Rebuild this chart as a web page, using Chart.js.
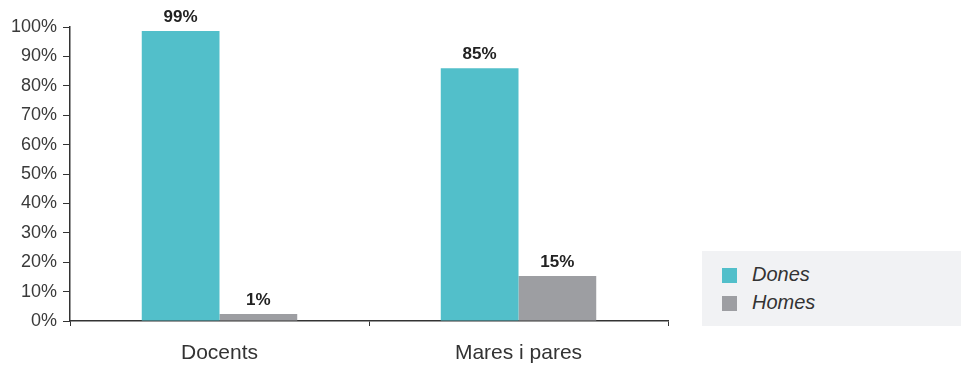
<!DOCTYPE html>
<html>
<head>
<meta charset="utf-8">
<script src="https://cdn.jsdelivr.net/npm/chart.js@4"></script>
<style>
  html,body{margin:0;padding:0;background:#fff;}
  #wrap{position:relative;width:961px;height:372px;}
  #legend{position:absolute;left:702px;top:251px;width:259px;height:75px;background:#f1f2f4;
    font-family:"Liberation Sans",Arial,sans-serif;font-style:italic;font-size:20px;color:#333;}
  .item{position:absolute;left:20px;height:15px;line-height:15px;}
  .sw{position:absolute;left:0;top:0;width:15px;height:15px;}
  .lt{position:absolute;left:30px;top:-1px;white-space:nowrap;}
</style>
</head>
<body>
<div id="wrap">
  <canvas id="c" width="961" height="372"></canvas>
  <div id="legend"></div>
</div>
<script>
const categories = ["Docents", "Mares i pares"];
const seriesNames = ["Dones", "Homes"];
const donesValues = [98.6, 86];
const homesValues = [2.4, 15.3];
const donesLabels = ["99%", "85%"];
const homesLabels = ["1%", "15%"];
const yTicks = [0, 10, 20, 30, 40, 50, 60, 70, 80, 90, 100];
const colors = ["#52bfca", "#9d9ea2"];

const valueLabels = [donesLabels, homesLabels];

const labelPlugin = {
  id: 'valueLabels',
  afterDatasetsDraw(chart) {
    const ctx = chart.ctx;
    ctx.save();
    ctx.font = 'bold 17px "Liberation Sans", Arial, sans-serif';
    ctx.fillStyle = '#222';
    ctx.textAlign = 'center';
    ctx.textBaseline = 'bottom';
    chart.data.datasets.forEach((ds, i) => {
      const meta = chart.getDatasetMeta(i);
      meta.data.forEach((bar, j) => {
        ctx.fillText(valueLabels[i][j], bar.x, bar.y - 5);
      });
    });
    ctx.restore();
  }
};

new Chart(document.getElementById('c'), {
  type: 'bar',
  data: {
    labels: categories,
    datasets: [
      { label: seriesNames[0], data: donesValues, backgroundColor: colors[0] },
      { label: seriesNames[1], data: homesValues, backgroundColor: colors[1] }
    ]
  },
  options: {
    responsive: false,
    animation: false,
    events: [],
    layout: { padding: { left: 0, right: 293, top: 27, bottom: 0 } },
    datasets: { bar: { categoryPercentage: 0.52, barPercentage: 1.0 } },
    plugins: { legend: { display: false }, tooltip: { enabled: false } },
    scales: {
      x: {
        grid: { display: true, drawOnChartArea: false, drawTicks: true, tickLength: 5, color: '#333', offset: true },
        border: { display: true, color: '#333', width: 1.5 },
        ticks: { color: '#333', font: { family: '"Liberation Sans", Arial, sans-serif', size: 21 }, padding: 15 },
        afterFit(scale) { scale.height = 51; }
      },
      y: {
        min: 0, max: 100,
        afterBuildTicks(scale) { scale.ticks = yTicks.map(v => ({ value: v })); },
        grid: { display: true, drawOnChartArea: false, drawTicks: true, tickLength: 7, color: '#333' },
        border: { display: true, color: '#333', width: 1.5 },
        ticks: { color: '#3a3a3a', font: { family: '"Liberation Sans", Arial, sans-serif', size: 18 }, padding: 6,
          callback: v => v + '%' },
        afterFit(scale) { scale.width = 70; }
      }
    }
  },
  plugins: [labelPlugin]
});

const legend = document.getElementById('legend');
seriesNames.forEach((name, i) => {
  const it = document.createElement('div');
  it.className = 'item';
  it.style.top = (17 + i * 28) + 'px';
  it.innerHTML = '<span class="sw" style="background:' + colors[i] + '"></span><span class="lt">' + name + '</span>';
  legend.appendChild(it);
});
</script>
</body>
</html>
